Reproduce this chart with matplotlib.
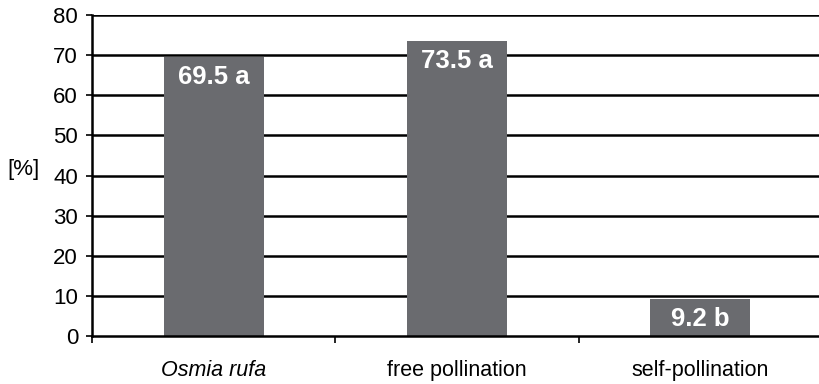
import numpy as np
import matplotlib.pyplot as plt

plt.rcParams['font.family'] = ['Liberation Sans', 'DejaVu Sans']

# Data
categories = ['Osmia rufa', 'free pollination', 'self-pollination']
values = [69.5, 73.5, 9.2]
letters = ['a', 'a', 'b']
cat_styles = ['italic', 'normal', 'normal']

bar_color = '#6a6b6f'

fig = plt.figure(figsize=(8.19, 3.84), dpi=100)
ax = fig.add_axes([92/819, 48/384, 730/819, 321/384])

xpos = np.arange(len(categories))
ax.set_ylim(0, 80)
ax.set_xlim(-0.5, len(categories) - 0.5)
ax.set_yticks(np.arange(0, 81, 10))
for y in np.arange(10, 81, 10):
    ax.axhline(y, color='black', linewidth=1.8, zorder=1)

bars = ax.bar(xpos, values, width=0.41, color=bar_color, zorder=2)
for x, v, l in zip(xpos, values, letters):
    ax.annotate(f'{v} {l}', xy=(x, v), xytext=(0, -6), textcoords='offset points',
                ha='center', va='top', color='white', fontsize=18.5,
                fontweight='bold', zorder=3)

for s in ['top', 'right']:
    ax.spines[s].set_visible(False)
ax.spines['left'].set_linewidth(1.8)
ax.spines['bottom'].set_linewidth(1.8)

ax.tick_params(axis='y', direction='out', length=4, width=1.2, labelsize=16, pad=6)
# category labels (no tick marks), boundary ticks as minor
ax.set_xticks(xpos)
ax.set_xticklabels(categories, fontsize=15.5)
for lab, st in zip(ax.get_xticklabels(), cat_styles):
    lab.set_style(st)
ax.tick_params(axis='x', which='major', length=0, pad=17)
ax.set_xticks(np.arange(-0.5, len(categories), 1.0), minor=True)
ax.tick_params(axis='x', which='minor', direction='out', length=5, width=1.2)

fig.text(7/819, 1 - 170/384, '[%]', fontsize=16, ha='left', va='center')

fig.savefig('out.png', dpi=100)
